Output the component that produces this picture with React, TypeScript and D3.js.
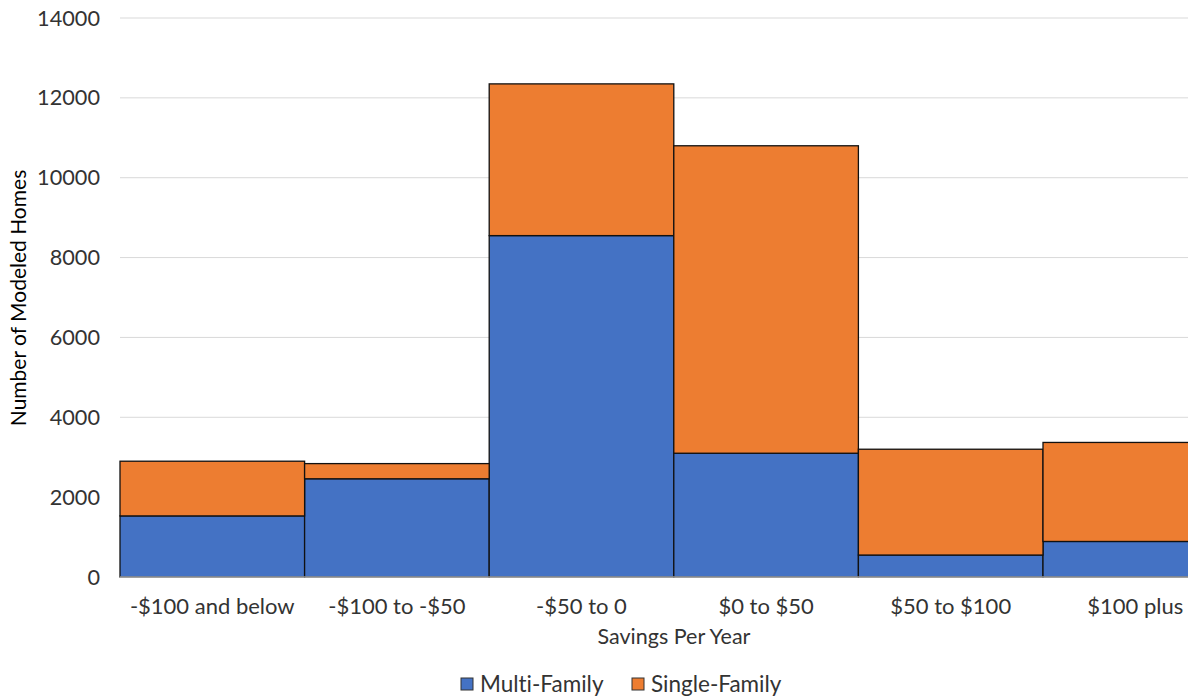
import React from "react";
import * as d3 from "d3";

const categories = ["-$100 and below", "-$100 to -$50", "-$50 to 0", "$0 to $50", "$50 to $100", "$100 plus"];
const multiFamily = [1530, 2460, 8550, 3100, 550, 890];
const singleFamily = [1370, 380, 3800, 7700, 2650, 2480];
const yTicks = [0, 2000, 4000, 6000, 8000, 10000, 12000, 14000];
const seriesNames = ["Multi-Family", "Single-Family"];
const colors = ["#4472C4", "#ED7D31"];

export default function App() {
  const W = 1188, H = 696;
  const x0 = 120, bw = 184.6;
  const x = d3.scaleBand<string>().domain(categories).range([x0, x0 + bw * categories.length]).padding(0);
  const y = d3.scaleLinear().domain([0, 14000]).range([577, 18]);
  const font = "Lato, 'Open Sans', sans-serif";
  const txt = "#333";

  const rows = categories.map((c, i) => ({ c, mf: multiFamily[i], sf: singleFamily[i] }));
  const stack = d3.stack<any>().keys(["mf", "sf"])(rows);

  return (
    <svg width={W} height={H} style={{ position: "absolute", left: 0, top: 0, background: "#fff", fontVariantLigatures: "none" }}>
      <defs>
        <clipPath id="clip"><rect x={0} y={0} width={W} height={H} /></clipPath>
      </defs>
      <rect x={0} y={0} width={W} height={H} fill="#fff" />
      {yTicks.map(t => (
        <g key={t}>
          {t > 0 && <line x1={x0} x2={W} y1={y(t)} y2={y(t)} stroke="#d9d9d9" strokeWidth={1} />}
          <text x={100} y={y(t)} dy="0.35em" textAnchor="end" fontFamily={font} fontSize={21.7} fill={txt}>{t}</text>
        </g>
      ))}
      <g clipPath="url(#clip)">
        {stack.map((s, si) => s.map((d, i) => (
          <rect key={si + "-" + i}
            x={x(categories[i])!}
            y={y(d[1])}
            width={x.bandwidth()}
            height={y(d[0]) - y(d[1])}
            fill={colors[si]}
            stroke="#111"
            strokeWidth={1.3} />
        )))}
      </g>
      <line x1={x0} x2={W} y1={y(0)} y2={y(0)} stroke="#d9d9d9" strokeWidth={1} />
      {categories.map(c => (
        <text key={c} x={x(c)! + x.bandwidth() / 2} y={606} dy="0.35em" textAnchor="middle" fontFamily={font} fontSize={22} fill={txt}>{c}</text>
      ))}
      <text x={674} y={636} dy="0.35em" textAnchor="middle" fontFamily={font} fontSize={21.5} fill={txt}>Savings Per Year</text>
      <text transform={`translate(19,298) rotate(-90)`} dy="0.35em" textAnchor="middle" fontFamily={font} fontSize={21} fill="#000">Number of Modeled Homes</text>
      {seriesNames.map((n, i) => {
        const lx = i === 0 ? 461 : 632;
        return (
          <g key={n}>
            <rect x={lx} y={678} width={12} height={12} fill={colors[i]} stroke="#333" strokeWidth={1} />
            <text x={lx + 19} y={684} dy="0.35em" fontFamily={font} fontSize={22.5} fill={txt}>{n}</text>
          </g>
        );
      })}
    </svg>
  );
}
